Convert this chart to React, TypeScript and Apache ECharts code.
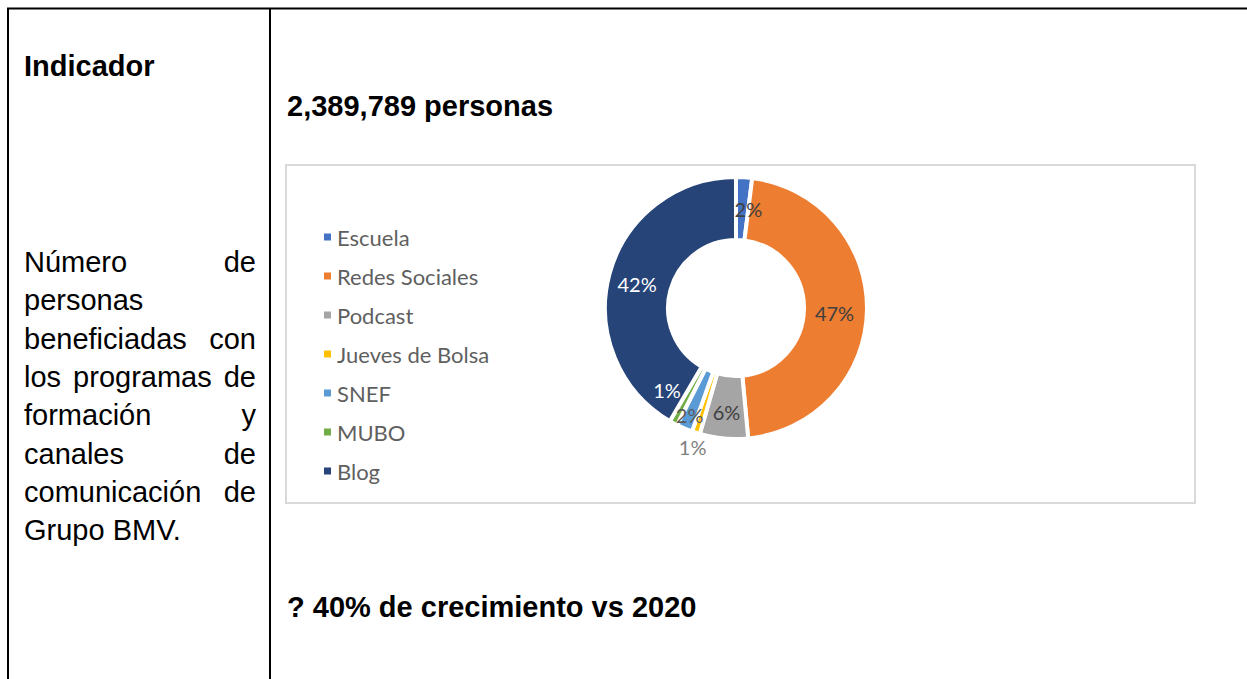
import React, { useEffect, useRef } from "react";
import * as echarts from "echarts";

// ---- data ----
const categories = ["Escuela", "Redes Sociales", "Podcast", "Jueves de Bolsa", "SNEF", "MUBO", "Blog"];
const shares = [2, 47, 6, 1, 2, 1, 42];
const sliceColors = ["#4472C4", "#ED7D31", "#A5A5A5", "#FFC000", "#5B9BD5", "#70AD47", "#264478"];
const labelColors = ["#404040", "#404040", "#404040", "#7F7F7F", "#595959", "#FFFFFF", "#FFFFFF"];

const headerText = "Indicador";
const totalText = "2,389,789 personas";
const growthText = "? 40% de crecimiento vs 2020";
const descLines = [
  ["Número", "de"],
  ["personas"],
  ["beneficiadas", "con"],
  ["los", "programas", "de"],
  ["formación", "y"],
  ["canales", "de"],
  ["comunicación", "de"],
  ["Grupo BMV."],
];

// ---- styling constants ----
const labelShift: number[][] = [[6, 3], [-4, 3], [0, 2], [-12, 41], [-6, 13], [-20, -8], [0, 3]];
const DOC_FONT = '"Liberation Sans", Arial, sans-serif';
const CHART_FONT = 'Lato, "Open Sans", sans-serif';

function measure(text: string, font: string): number {
  const c = document.createElement("canvas");
  const ctx = c.getContext("2d");
  if (!ctx) return text.length * 14;
  ctx.font = font;
  return ctx.measureText(text).width;
}

export default function App() {
  const ref = useRef<HTMLDivElement>(null);

  useEffect(() => {
    if (!ref.current) return;
    const chart = echarts.init(ref.current, undefined, { renderer: "svg" });

    const regFont = `29px ${DOC_FONT}`;
    const boldFont = `bold 29px ${DOC_FONT}`;
    const colLeft = 24;
    const colRight = 256;
    const lineY0 = 262;
    const lineStep = 38.3;

    const descElements: any[] = [];
    descLines.forEach((words, i) => {
      const y = lineY0 + i * lineStep;
      if (words.length === 1) {
        descElements.push({
          type: "text", x: colLeft, y,
          style: { text: words[0], font: regFont, fill: "#000", textAlign: "left", textVerticalAlign: "middle" },
        });
      } else {
        const widths = words.map((w) => measure(w, regFont));
        const total = widths.reduce((a, b) => a + b, 0);
        const gap = (colRight - colLeft - total) / (words.length - 1);
        let x = colLeft;
        words.forEach((w, k) => {
          descElements.push({
            type: "text", x, y,
            style: { text: w, font: regFont, fill: "#000", textAlign: "left", textVerticalAlign: "middle" },
          });
          x += widths[k] + gap;
        });
      }
    });

    const option: any = {
      animation: false,
      backgroundColor: "#ffffff",
      graphic: [
        { type: "line", shape: { x1: 7, y1: 8.5, x2: 1247, y2: 8.5 }, style: { stroke: "#000", lineWidth: 2 } },
        { type: "line", shape: { x1: 8, y1: 8, x2: 8, y2: 679 }, style: { stroke: "#000", lineWidth: 2 } },
        { type: "line", shape: { x1: 270, y1: 8, x2: 270, y2: 679 }, style: { stroke: "#000", lineWidth: 2 } },
        {
          type: "rect",
          shape: { x: 286, y: 165, width: 909, height: 338 },
          style: { fill: "none", stroke: "#D9D9D9", lineWidth: 2 },
          z: -1,
        },
        {
          type: "text", x: 24, y: 66,
          style: { text: headerText, font: boldFont, fill: "#000", textAlign: "left", textVerticalAlign: "middle" },
        },
        {
          type: "text", x: 287, y: 106,
          style: { text: totalText, font: boldFont, fill: "#000", textAlign: "left", textVerticalAlign: "middle" },
        },
        {
          type: "text", x: 287, y: 607,
          style: { text: growthText, font: boldFont, fill: "#000", textAlign: "left", textVerticalAlign: "middle" },
        },
        ...descElements,
      ],
      legend: {
        orient: "vertical",
        left: 317,
        top: 220,
        itemWidth: 9,
        itemHeight: 9,
        itemGap: 15,
        icon: "rect",
        data: categories,
        textStyle: { fontFamily: CHART_FONT, fontSize: 22, color: "#5F5F5F", lineHeight: 24 },
      },
      series: [
        {
          type: "pie",
          center: [736, 308],
          radius: [68, 131],
          startAngle: 90,
          clockwise: true,
          avoidLabelOverlap: false,
          emphasis: { disabled: true },
          itemStyle: { borderColor: "#ffffff", borderWidth: 4 },
          label: {
            show: true,
            position: "inside",
            formatter: "{c}%",
            fontFamily: CHART_FONT,
            fontSize: 20,
          },
          labelLine: { show: false },
          labelLayout: (params: any) => {
            const s = labelShift[params.dataIndex] || [0, 0];
            return { dx: s[0], dy: s[1] };
          },
          data: categories.map((name, i) => ({
            name,
            value: shares[i],
            itemStyle: { color: sliceColors[i] },
            label: { color: labelColors[i] },
          })),
        },
      ],
    };

    chart.setOption(option);
    return () => chart.dispose();
  }, []);

  return (
    <div
      ref={ref}
      style={{ position: "absolute", left: 0, top: 0, width: 1247, height: 679, background: "#fff" }}
    />
  );
}
